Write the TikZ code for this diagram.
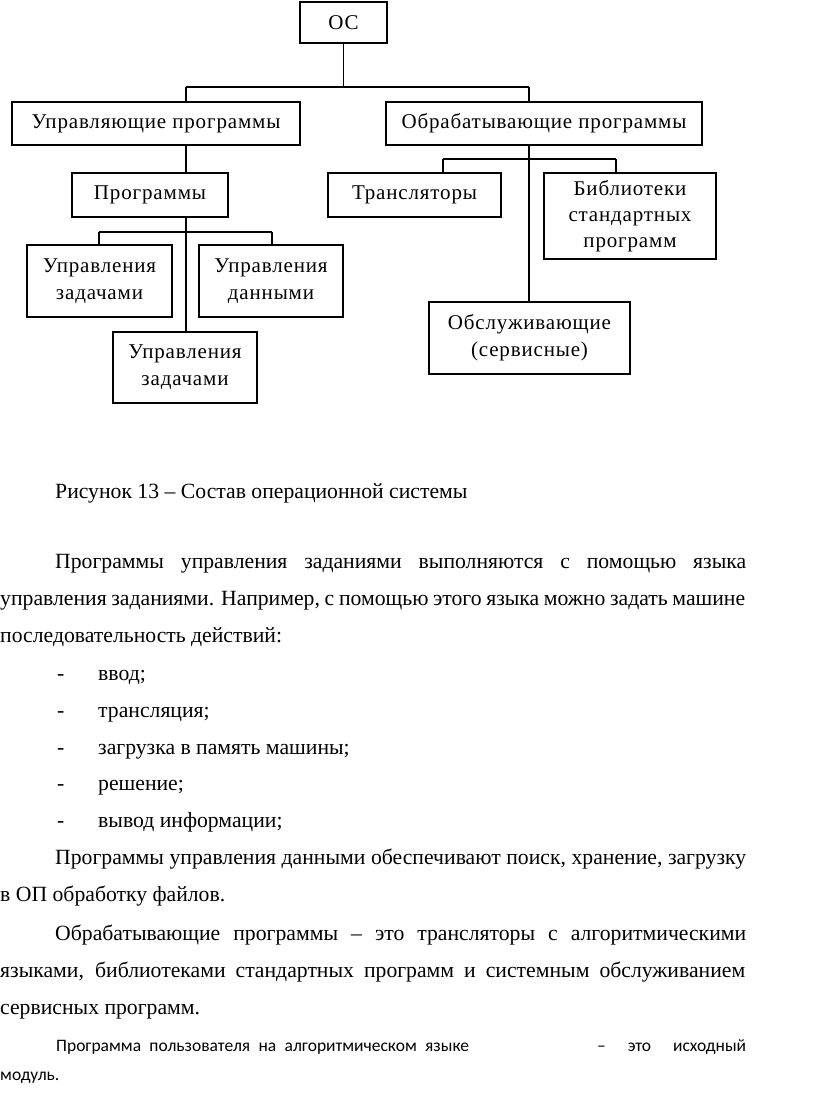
\documentclass[tikz,border=0pt]{standalone}
\usepackage{fontspec}
\setmainfont{Liberation Serif}
\newfontfamily\diagfont[LetterSpace=4]{Liberation Serif}
\newfontfamily\califont{Carlito}
\begin{document}
\begin{tikzpicture}[x=1pt,y=-1pt,
  box/.style={draw=black,line width=1.4pt,inner sep=0pt,align=center,
    font=\diagfont\fontsize{21}{27}\selectfont},
  conn/.style={draw=black,line width=1.4pt},
  body/.style={anchor=base west,inner sep=0pt,font=\fontsize{21.7}{26}\selectfont},
  small/.style={anchor=base west,inner sep=0pt,font=\califont\fontsize{17.5}{21}\selectfont}]
\fill[white] (0,0) rectangle (816,1104);
\useasboundingbox (0,0) rectangle (816,1104);
% boxes
\node[box,minimum width=87pt,minimum height=41pt] (os) at (343.5,22.5) {ОС};
\node[box,minimum width=288pt,minimum height=43pt] (up) at (156,123.5) {Управляющие программы};
\node[box,minimum width=316pt,minimum height=43pt] (ob) at (544,123.5) {Обрабатывающие программы};
\node[box,minimum width=156pt,minimum height=44pt] (pr) at (150,195) {Программы};
\node[box,minimum width=173pt,minimum height=44pt] (tr) at (414.5,195) {Трансляторы};
\node[box,minimum width=172pt,minimum height=86pt] (bib) at (630,216) {Библиотеки\\[-1pt]стандартных\\[-1pt]программ};
\node[box,minimum width=201pt,minimum height=72pt] (obs) at (529.5,338) {Обслуживающие\\(сервисные)};
\node[box,minimum width=145pt,minimum height=72pt] (uz1) at (99.5,281) {Управления\\задачами};
\node[box,minimum width=144pt,minimum height=72pt] (ud) at (271,281) {Управления\\данными};
\node[box,minimum width=144pt,minimum height=71pt] (uz2) at (185,367.5) {Управления\\задачами};
% junctions
\coordinate (j1l) at (186,87);
\coordinate (j1r) at (529,87);
\coordinate (j2l) at (99,232);
\coordinate (j2r) at (272,232);
\coordinate (j3l) at (443,159);
\coordinate (j3r) at (616,159);
% connectors
\draw[conn] (os.south) -- (os.south |- j1l);
\draw[conn] (j1l) -- (j1r);
\draw[conn] (j1l) -- (j1l |- up.north);
\draw[conn] (j1r) -- (j1r |- ob.north);
\draw[conn] (j1l |- up.south) -- (j1l |- pr.north);
\draw[conn] (j1l |- pr.south) -- (j1l |- uz2.north);
\draw[conn] (j2l) -- (j2r);
\draw[conn] (j2l) -- (j2l |- uz1.north);
\draw[conn] (j2r) -- (j2r |- ud.north);
\draw[conn] (j1r |- ob.south) -- (j1r |- obs.north);
\draw[conn] (j3l) -- (j3r);
\draw[conn] (j3l) -- (j3l |- tr.north);
\draw[conn] (j3r) -- (j3r |- bib.north);
% text
\node[body] (cap) at (55,498) {Рисунок 13 – Состав операционной системы};
\node[body] (p1a) at (55,568) {\makebox[691pt][s]{Программы управления заданиями выполняются с помощью языка}};
\node[body] (p1b) at (0,605) {\makebox[745pt][s]{управления заданиями. Например, с помощью этого языка можно задать машине}};
\node[body] (p1c) at (0,642) {последовательность действий:};
\node[body] (d1) at (57,680) {-};
\node[body] (l1) at (98,680) {ввод;};
\node[body] (d2) at (57,717) {-};
\node[body] (l2) at (98,717) {трансляция;};
\node[body] (d3) at (57,754) {-};
\node[body] (l3) at (98,754) {загрузка в память машины;};
\node[body] (d4) at (57,790) {-};
\node[body] (l4) at (98,790) {решение;};
\node[body] (d5) at (57,827) {-};
\node[body] (l5) at (98,827) {вывод информации;};
\node[body] (p2a) at (55,864) {\makebox[691pt][s]{Программы управления данными обеспечивают поиск, хранение, загрузку}};
\node[body] (p2b) at (0,901) {в ОП обработку файлов.};
\node[body] (p3a) at (55,940) {\makebox[691pt][s]{Обрабатывающие программы – это трансляторы с алгоритмическими}};
\node[body] (p3b) at (0,977) {\makebox[745pt][s]{языками, библиотеками стандартных программ и системным обслуживанием}};
\node[body] (p3c) at (0,1014) {сервисных программ.};
\node[small] (p4a) at (56,1051) {\makebox[413pt][s]{Программа пользователя на алгоритмическом языке}};
\node[small] (p4b) at (597,1051) {\makebox[149pt][s]{– это исходный}};
\node[small] (p4c) at (0,1080) {модуль.};
\end{tikzpicture}
\end{document}
